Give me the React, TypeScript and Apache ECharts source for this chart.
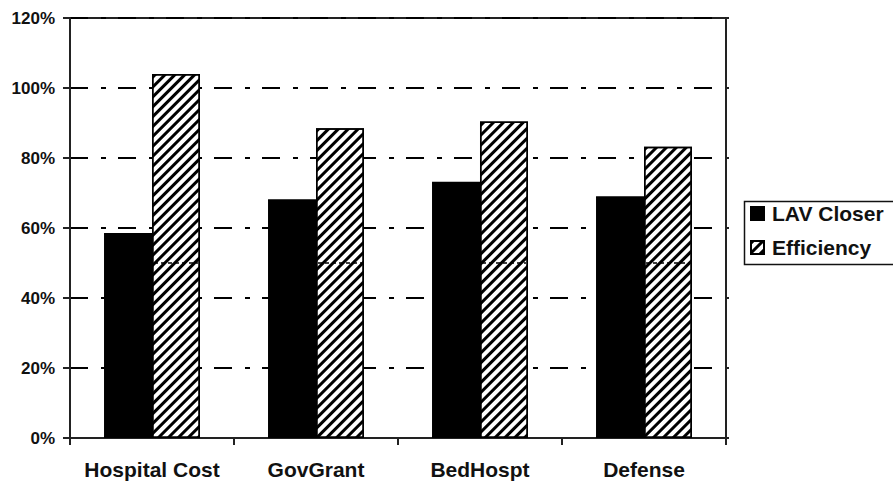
import React, { useEffect, useRef } from "react";
import * as echarts from "echarts";

// Categories and series values (percent)
const categories = ["Hospital Cost", "GovGrant", "BedHospt", "Defense"];
const lavCloser = [58.6, 68.2, 73.2, 69.1];
const efficiency = [104, 88.5, 90.4, 83.2];
const yTicks = [0, 20, 40, 60, 80, 100, 120];
// level of the thin dashed seam crossing the hatched bars
const seamLevel = 50;

const FONT = "'Liberation Sans', Arial, sans-serif";
const CATEGORY_GAP = 0.415;

export default function App() {
  const ref = useRef<HTMLDivElement>(null);

  useEffect(() => {
    if (!ref.current) return;
    const chart = echarts.init(ref.current, null, { renderer: "svg" });
    const yMin = yTicks[0];
    const yMax = yTicks[yTicks.length - 1];
    const step = yTicks[1] - yTicks[0];

    chart.setOption({
      animation: false,
      backgroundColor: "#fff",
      grid: {
        left: 70,
        top: 18,
        right: 167,
        bottom: 48,
        show: true,
        borderColor: "#222",
        borderWidth: 2,
        backgroundColor: "transparent",
      },
      // legend frame runs past the right edge of the canvas
      graphic: [
        {
          type: "rect",
          left: 742,
          top: 199,
          shape: { width: 200, height: 63 },
          style: { fill: "none", stroke: "#111", lineWidth: 1.5 },
          z: 10,
        },
      ],
      legend: {
        orient: "vertical",
        left: 742,
        top: 199,
        padding: [4, 0, 4, 8],
        itemWidth: 13,
        itemHeight: 13,
        itemGap: 13,
        icon: "rect",
        textStyle: {
          fontFamily: FONT,
          fontWeight: "bold",
          fontSize: 21,
          color: "#111",
          padding: [0, 0, 0, 3],
        },
        data: ["LAV Closer", "Efficiency"],
      },
      xAxis: {
        type: "category",
        data: categories,
        boundaryGap: true,
        axisLine: { show: true, lineStyle: { color: "#222", width: 2 } },
        axisTick: { show: true, length: 7, lineStyle: { color: "#222", width: 2 } },
        axisLabel: {
          interval: 0,
          margin: 21,
          fontFamily: FONT,
          fontWeight: "bold",
          fontSize: 21,
          color: "#111",
        },
        splitLine: { show: false },
      },
      yAxis: [
        {
          type: "value",
          min: yMin,
          max: yMax,
          interval: step,
          axisLine: { show: true, lineStyle: { color: "#222", width: 2 } },
          axisTick: { show: true, length: 7, lineStyle: { color: "#222", width: 2 } },
          axisLabel: {
            margin: 15,
            fontFamily: FONT,
            fontWeight: "bold",
            fontSize: 17,
            color: "#111",
            formatter: (v: number) => `${v}%`,
          },
          splitLine: {
            show: true,
            lineStyle: { color: "#000", width: 2, type: [18, 13, 5, 12] },
          },
        },
        {
          type: "value",
          position: "right",
          min: yMin,
          max: yMax,
          interval: step,
          axisLine: { show: true, lineStyle: { color: "#222", width: 2 } },
          axisTick: { show: true, length: 3, lineStyle: { color: "#222", width: 2 } },
          axisLabel: { show: false },
          splitLine: { show: false },
        },
      ],
      series: [
        {
          name: "LAV Closer",
          type: "bar",
          data: lavCloser,
          barGap: "0%",
          barCategoryGap: `${CATEGORY_GAP * 100}%`,
          itemStyle: { color: "#000", borderColor: "#000", borderWidth: 1.5 },
        },
        {
          name: "Efficiency",
          type: "bar",
          data: efficiency,
          barGap: "0%",
          barCategoryGap: `${CATEGORY_GAP * 100}%`,
          itemStyle: {
            color: "#fff",
            borderColor: "#000",
            borderWidth: 1.5,
            decal: {
              symbol: "rect",
              symbolSize: 1,
              dashArrayX: [1, 0],
              dashArrayY: [3, 3.4],
              rotation: -Math.PI / 4,
              color: "#000",
            },
          },
        },
        {
          name: "seam",
          type: "custom",
          z: 5,
          silent: true,
          data: categories.map((_, i) => [i, seamLevel]),
          renderItem: (_params: any, api: any) => {
            const c = api.coord([api.value(0), api.value(1)]);
            const w = api.size([1, 0])[0];
            const bw = (w * (1 - CATEGORY_GAP)) / 2;
            return {
              type: "line",
              shape: { x1: c[0] + 2, y1: c[1], x2: c[0] + bw - 2, y2: c[1] },
              style: { stroke: "#000", lineWidth: 1.5, lineDash: [4, 3] },
            };
          },
        },
      ],
    });

    return () => chart.dispose();
  }, []);

  return (
    <div
      ref={ref}
      style={{ position: "fixed", left: 0, top: 0, width: 893, height: 486 }}
    />
  );
}
